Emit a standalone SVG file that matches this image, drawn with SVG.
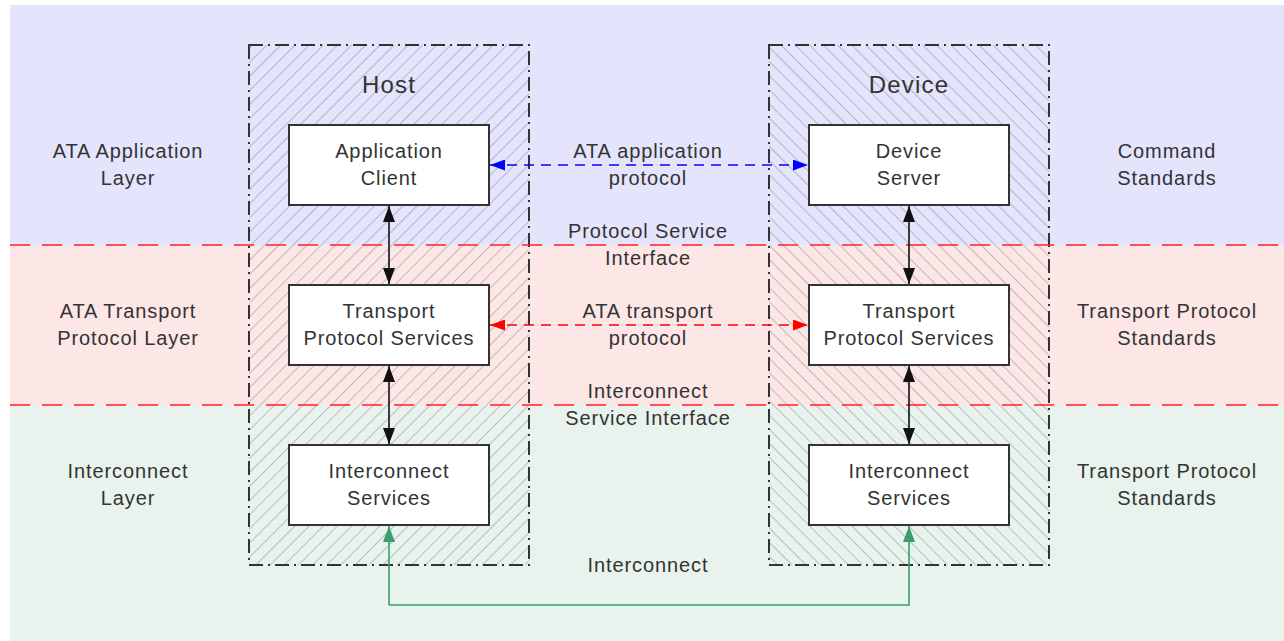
<svg xmlns="http://www.w3.org/2000/svg" width="1284" height="641" viewBox="0 0 1284 641">
<style>
text{font-family:"Liberation Sans",Arial,sans-serif;font-size:20px;letter-spacing:0.9px;fill:#333;text-anchor:middle}
.title{font-size:24px;letter-spacing:1.2px}
.box{fill:#fff;stroke:#333;stroke-width:2}
.frame{stroke:#333;stroke-width:2;stroke-dasharray:14 5 2 5}
.sep{stroke:#f22;stroke-width:1.6;stroke-dasharray:20 12;fill:none}
.bi{stroke:#111;stroke-width:1.6;fill:none}
</style>
<defs>
<pattern id="hatchR" patternUnits="userSpaceOnUse" width="10" height="10" patternTransform="rotate(45)">
<line x1="0" y1="0" x2="0" y2="10" stroke="#888" stroke-width="1"/>
</pattern>
<pattern id="hatchL" patternUnits="userSpaceOnUse" width="10" height="10" patternTransform="rotate(-45)">
<line x1="0" y1="0" x2="0" y2="10" stroke="#888" stroke-width="1"/>
</pattern>
<marker id="ak" viewBox="0 0 10 10" refX="10" refY="5" markerWidth="16" markerHeight="12" markerUnits="userSpaceOnUse" orient="auto-start-reverse" preserveAspectRatio="none"><path d="M0,0L10,5L0,10z" fill="#111"/></marker>
<marker id="ab" viewBox="0 0 10 10" refX="10" refY="5" markerWidth="15" markerHeight="11" markerUnits="userSpaceOnUse" orient="auto-start-reverse" preserveAspectRatio="none"><path d="M0,0L10,5L0,10z" fill="#00f"/></marker>
<marker id="ar" viewBox="0 0 10 10" refX="10" refY="5" markerWidth="15" markerHeight="11" markerUnits="userSpaceOnUse" orient="auto-start-reverse" preserveAspectRatio="none"><path d="M0,0L10,5L0,10z" fill="#f00"/></marker>
<marker id="ag" viewBox="0 0 10 10" refX="10" refY="5" markerWidth="16" markerHeight="12" markerUnits="userSpaceOnUse" orient="auto" preserveAspectRatio="none"><path d="M0,0L10,5L0,10z" fill="#3a9f6c"/></marker>
</defs>
<rect width="1284" height="641" fill="#fff"/>
<g id="bands">
<rect x="10" y="5" width="1274" height="240" fill="#e4e4fc"/>
<rect x="10" y="245" width="1274" height="160" fill="#fde6e6"/>
<rect x="10" y="405" width="1274" height="236" fill="#e8f3ee"/>
</g>
<g id="host">
<rect x="249" y="45" width="280" height="520" fill="url(#hatchR)"/>
<rect x="249" y="45" width="280" height="520" fill="none" class="frame"/>
<text class="title" x="389" y="93">Host</text>
</g>
<g id="device">
<rect x="769" y="45" width="280" height="520" fill="url(#hatchL)"/>
<rect x="769" y="45" width="280" height="520" fill="none" class="frame"/>
<text class="title" x="909" y="93">Device</text>
</g>
<g id="separators">
<line class="sep" x1="10" y1="245" x2="1284" y2="245"/>
<line class="sep" x1="10" y1="405" x2="1284" y2="405"/>
</g>
<g id="app-client"><rect class="box" x="289" y="125" width="200" height="80"/><text x="389" y="158">Application</text><text x="389" y="185">Client</text></g>
<g id="device-server"><rect class="box" x="809" y="125" width="200" height="80"/><text x="909" y="158">Device</text><text x="909" y="185">Server</text></g>
<g id="host-transport"><rect class="box" x="289" y="285" width="200" height="80"/><text x="389" y="318">Transport</text><text x="389" y="345">Protocol Services</text></g>
<g id="dev-transport"><rect class="box" x="809" y="285" width="200" height="80"/><text x="909" y="318">Transport</text><text x="909" y="345">Protocol Services</text></g>
<g id="host-interconnect"><rect class="box" x="289" y="445" width="200" height="80"/><text x="389" y="478">Interconnect</text><text x="389" y="505">Services</text></g>
<g id="dev-interconnect"><rect class="box" x="809" y="445" width="200" height="80"/><text x="909" y="478">Interconnect</text><text x="909" y="505">Services</text></g>
<g id="connectors">
<line class="bi" x1="389" y1="206" x2="389" y2="284" marker-start="url(#ak)" marker-end="url(#ak)"/>
<line class="bi" x1="389" y1="366" x2="389" y2="444" marker-start="url(#ak)" marker-end="url(#ak)"/>
<line class="bi" x1="909" y1="206" x2="909" y2="284" marker-start="url(#ak)" marker-end="url(#ak)"/>
<line class="bi" x1="909" y1="366" x2="909" y2="444" marker-start="url(#ak)" marker-end="url(#ak)"/>
<line x1="490" y1="165" x2="808" y2="165" stroke="#00f" stroke-width="1.6" stroke-dasharray="10 7" marker-start="url(#ab)" marker-end="url(#ab)"/>
<line x1="490" y1="325" x2="808" y2="325" stroke="#f00" stroke-width="1.6" stroke-dasharray="10 7" marker-start="url(#ar)" marker-end="url(#ar)"/>
<path d="M389,605H909V526" fill="none" stroke="#3a9f6c" stroke-width="1.6" marker-end="url(#ag)"/>
<path d="M389,605V526" fill="none" stroke="#3a9f6c" stroke-width="1.6" marker-end="url(#ag)"/>
</g>
<g id="labels">
<text x="128" y="158">ATA Application</text><text x="128" y="185">Layer</text>
<text x="128" y="318">ATA Transport</text><text x="128" y="345">Protocol Layer</text>
<text x="128" y="478">Interconnect</text><text x="128" y="505">Layer</text>
<text x="1167" y="158">Command</text><text x="1167" y="185">Standards</text>
<text x="1167" y="318">Transport Protocol</text><text x="1167" y="345">Standards</text>
<text x="1167" y="478">Transport Protocol</text><text x="1167" y="505">Standards</text>
<text x="648" y="158">ATA application</text><text x="648" y="185">protocol</text>
<text x="648" y="238">Protocol Service</text><text x="648" y="265">Interface</text>
<text x="648" y="318">ATA transport</text><text x="648" y="345">protocol</text>
<text x="648" y="398">Interconnect</text><text x="648" y="425">Service Interface</text>
<text x="648" y="572">Interconnect</text>
</g>
</svg>
